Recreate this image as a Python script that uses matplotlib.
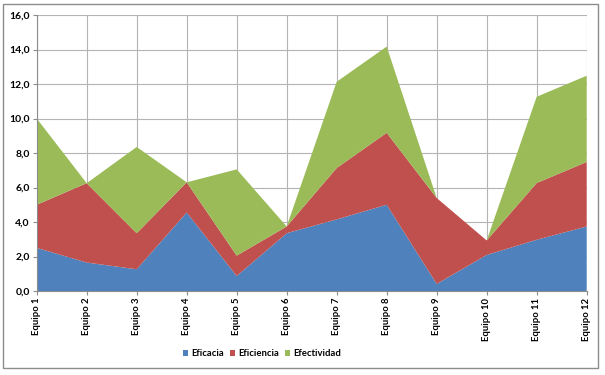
import numpy as np
import matplotlib
matplotlib.use('Agg')
import matplotlib.pyplot as plt
from matplotlib.patches import Rectangle, Patch

plt.rcParams['font.family'] = ['Lato', 'DejaVu Sans']

equipos = ['Equipo %d' % i for i in range(1, 13)]
eficacia = [2.5, 1.65, 1.26, 4.55, 0.87, 3.35, 4.15, 5.0, 0.41, 2.09, 2.97, 3.74]
eficiencia = [2.5, 4.6, 2.09, 1.75, 1.18, 0.39, 2.98, 4.17, 4.98, 0.84, 3.29, 3.74]
efectividad = [5.0, 0.0, 5.0, 0.0, 5.0, 0.0, 5.0, 5.0, 0.0, 0.0, 5.0, 5.0]
series = ['Eficacia', 'Eficiencia', 'Efectividad']
colores = ['#4F81BD', '#C0504D', '#9BBB59']
yticks = np.arange(0, 17, 2)

W, H = 605, 375
fig = plt.figure(figsize=(W/100, H/100), dpi=100)

# marco exterior
fig.patches.append(Rectangle((3/W, 7/H), 595/W, 364/H, transform=fig.transFigure,
                             fill=False, edgecolor='#8c8c8c', linewidth=1.0))

ax = fig.add_axes([36.7/W, (H-291)/H, 550/W, 276/H])
x = np.arange(len(equipos))
ax.stackplot(x, eficacia, eficiencia, efectividad, colors=colores,
             labels=series, linewidth=0, zorder=3)
ax.set_xlim(0, len(equipos)-1)
ax.set_ylim(0, 16)
ax.set_yticks(yticks)
ax.set_yticklabels([('%.1f' % v).replace('.', ',') for v in yticks],
                   fontsize=7.5, fontweight='bold')
ax.set_xticks(x)
ax.set_xticklabels(equipos, rotation=90, fontsize=6.8, fontweight='bold')
ax.tick_params(axis='both', length=3, color='#8c8c8c', pad=2)
ax.grid(True, color='#b4b4b4', linewidth=0.8, zorder=0)
ax.set_axisbelow(True)
for s in ['top', 'right']:
    ax.spines[s].set_visible(False)
for s in ['left', 'bottom']:
    ax.spines[s].set_color('#8c8c8c')
    ax.spines[s].set_zorder(4)

handles = [Patch(facecolor=c, edgecolor='none') for c in colores]
fig.legend(handles, series, loc='center', bbox_to_anchor=(262/W, 1-354/H),
           ncol=3, frameon=False, handlelength=0.6, handleheight=0.6,
           handletextpad=0.3, columnspacing=0.6, prop={'size': 6.8, 'weight': 'bold'})

fig.savefig('out.png', dpi=100)
